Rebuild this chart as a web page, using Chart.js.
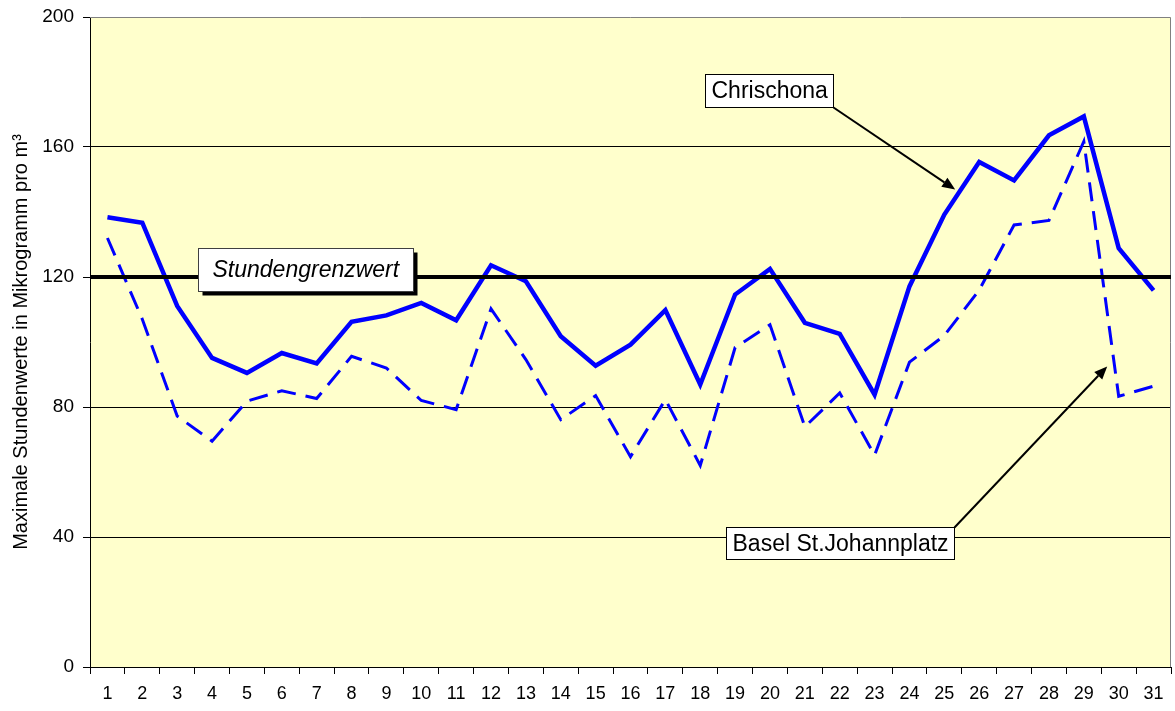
<!DOCTYPE html>
<html>
<head>
<meta charset="utf-8">
<script src="https://cdn.jsdelivr.net/npm/chart.js@4"></script>
<style>
  html, body { margin: 0; padding: 0; background: #ffffff; }
  #wrap { width: 1175px; height: 711px; }
</style>
</head>
<body>
<div id="wrap"><canvas id="c" width="1175" height="711"></canvas></div>
<script>
// ---- data ----
const days = ['1','2','3','4','5','6','7','8','9','10','11','12','13','14','15','16','17','18','19','20','21','22','23','24','25','26','27','28','29','30','31'];
const chrischona = [138.4,136.7,111.1,95.1,90.5,96.6,93.4,106.2,108.2,112.0,106.7,123.6,118.7,101.8,92.7,99.2,109.8,86.9,114.6,122.5,105.9,102.5,83.8,117.1,139.2,155.4,149.7,163.6,169.4,128.9,115.9];
const basel = [132.0,107.0,77.2,69.5,81.8,85.0,82.6,95.6,92.0,82.0,79.2,110.2,94.6,76.1,83.5,64.7,82.3,62.0,98.3,105.3,73.9,84.3,65.2,93.8,102.0,116.0,136.0,137.4,161.7,83.3,86.4];
const yTicks = [0, 40, 80, 120, 160, 200];
const threshold = 120;
const seriesNames = ['Chrischona', 'Basel St.Johannplatz'];
const thresholdName = 'Stundengrenzwert';
const yTitle = 'Maximale Stundenwerte in Mikrogramm pro m³';

const FONT = "'Liberation Sans', Arial, sans-serif";

// annotation anchors in data space (category index, value)
const notes = [
  { text: seriesNames[0], x: 17.14, y: 182.6, italic: false, shadow: false, padX: 6, h: 33, arrowTo: { x: 24.31, y: 146.9 }, arrowFrom: 'br' },
  { text: seriesNames[1], x: 17.74, y: 43.2, italic: false, shadow: false, padX: 6, h: 32, arrowTo: { x: 28.67, y: 92.5 }, arrowFrom: 'tr' },
  { text: thresholdName, x: 2.60, y: 129.0, italic: true, shadow: true, padX: 14, h: 43, arrowTo: null }
];

const bgPlugin = {
  id: 'bg',
  beforeDraw(chart) {
    const { ctx, chartArea: a } = chart;
    ctx.save();
    ctx.fillStyle = '#FFFFCC';
    ctx.fillRect(a.left, a.top, a.right - a.left, a.bottom - a.top);
    ctx.restore();
  },
  afterDraw(chart) {
    const { ctx, chartArea: a } = chart;
    const xs = chart.scales.x, ys = chart.scales.y;
    ctx.save();
    // frame: top & right gray
    ctx.strokeStyle = '#808080';
    ctx.lineWidth = 1;
    ctx.beginPath();
    ctx.moveTo(a.left, a.top + 0.5);
    ctx.lineTo(a.right - 0.5, a.top + 0.5);
    ctx.lineTo(a.right - 0.5, a.bottom);
    ctx.stroke();
    // threshold line
    const ty = ys.getPixelForValue(threshold);
    ctx.strokeStyle = '#000000';
    ctx.lineWidth = 4;
    ctx.beginPath();
    ctx.moveTo(a.left, ty);
    ctx.lineTo(a.right, ty);
    ctx.stroke();
    // annotations
    notes.forEach(n => {
      ctx.font = (n.italic ? 'italic ' : '') + '23px ' + FONT;
      const tw = ctx.measureText(n.text).width;
      const bx = Math.round(xs.getPixelForValue(n.x)) + 0.5;
      const by = Math.round(ys.getPixelForValue(n.y)) + 0.5;
      const bw = Math.round(tw + 2 * n.padX);
      const bh = n.h;
      if (n.arrowTo) {
        const sx = bx + bw;
        const sy = n.arrowFrom === 'br' ? by + bh : by;
        const ex = xs.getPixelForValue(n.arrowTo.x);
        const ey = ys.getPixelForValue(n.arrowTo.y);
        const ang = Math.atan2(ey - sy, ex - sx);
        const hl = 13, hw = 5.5;
        const bxh = ex - hl * Math.cos(ang), byh = ey - hl * Math.sin(ang);
        ctx.strokeStyle = '#000';
        ctx.lineWidth = 2;
        ctx.beginPath();
        ctx.moveTo(sx, sy);
        ctx.lineTo(bxh, byh);
        ctx.stroke();
        ctx.fillStyle = '#000';
        ctx.beginPath();
        ctx.moveTo(ex, ey);
        ctx.lineTo(bxh + hw * Math.sin(ang), byh - hw * Math.cos(ang));
        ctx.lineTo(bxh - hw * Math.sin(ang), byh + hw * Math.cos(ang));
        ctx.closePath();
        ctx.fill();
      }
      if (n.shadow) {
        ctx.fillStyle = '#000';
        ctx.fillRect(bx + 4, by + 4, bw, bh);
      }
      ctx.fillStyle = '#ffffff';
      ctx.fillRect(bx, by, bw, bh);
      ctx.strokeStyle = n.shadow ? '#404040' : '#000000';
      ctx.lineWidth = 1;
      ctx.strokeRect(bx, by, bw, bh);
      ctx.fillStyle = '#000';
      ctx.textBaseline = 'middle';
      ctx.textAlign = 'left';
      ctx.fillText(n.text, bx + n.padX, by + bh / 2 + 1);
    });
    ctx.restore();
  }
};

new Chart(document.getElementById('c'), {
  type: 'line',
  data: {
    labels: days,
    datasets: [
      { label: seriesNames[0], data: chrischona, borderColor: '#0000FF', borderWidth: 4.5, pointRadius: 0, tension: 0, fill: false, borderJoinStyle: 'miter', borderCapStyle: 'butt' },
      { label: seriesNames[1], data: basel, borderColor: '#0000FF', borderWidth: 3, borderDash: [19, 10], pointRadius: 0, tension: 0, fill: false, borderJoinStyle: 'miter', borderCapStyle: 'butt' }
    ]
  },
  options: {
    responsive: false,
    animation: false,
    events: [],
    layout: { padding: { top: 17, right: 4, left: 0, bottom: 0 } },
    plugins: { legend: { display: false }, title: { display: false }, tooltip: { enabled: false } },
    scales: {
      x: {
        offset: true,
        grid: { offset: true, drawOnChartArea: false, drawTicks: true, tickLength: 7, tickColor: '#000', color: '#000' },
        border: { display: true, color: '#000', width: 1 },
        ticks: { color: '#000', font: { family: FONT, size: 18 }, padding: 9, maxRotation: 0, autoSkip: false },
        afterFit(s) { s.height = 44; s.paddingLeft = 0; s.paddingRight = 0; }
      },
      y: {
        min: 0, max: 200,
        afterBuildTicks(s) { s.ticks = yTicks.map(v => ({ value: v })); },
        grid: {
          color: ctx => (ctx.tick && ctx.tick.value === 200) ? 'rgba(0,0,0,0)' : '#000',
          lineWidth: 1, drawTicks: true, tickLength: 7, tickColor: '#000'
        },
        border: { display: true, color: '#000', width: 1 },
        ticks: { color: '#000', font: { family: FONT, size: 19 }, padding: 9 },
        title: { display: true, text: yTitle, color: '#000', font: { family: FONT, size: 20 }, padding: { top: 9, bottom: 0 } },
        afterFit(s) { s.width = 90; s.paddingTop = 0; s.paddingBottom = 0; }
      }
    }
  },
  plugins: [bgPlugin]
});
</script>
</body>
</html>
